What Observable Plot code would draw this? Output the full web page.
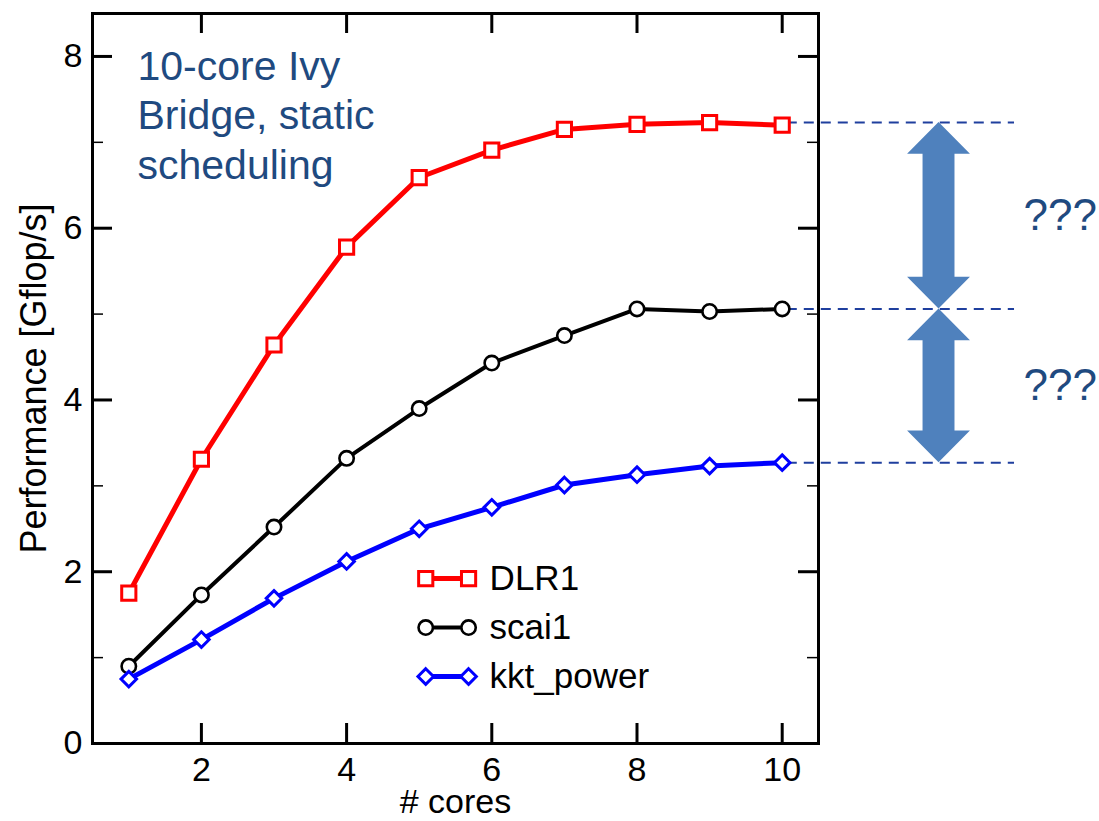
<!DOCTYPE html>
<html>
<head>
<meta charset="utf-8">
<script src="https://cdn.jsdelivr.net/npm/d3@7"></script>
<script src="https://cdn.jsdelivr.net/npm/@observablehq/plot@0.6"></script>
<style>
  html, body { margin: 0; padding: 0; background: #fff; }
  #chart svg { display: block; overflow: visible; }
</style>
</head>
<body>
<div id="chart"></div>
<script>
// ---- data ----
const cores = [1, 2, 3, 4, 5, 6, 7, 8, 9, 10];
const dlr1 = [1.75, 3.31, 4.64, 5.78, 6.59, 6.91, 7.15, 7.21, 7.23, 7.20];
const scai1 = [0.90, 1.73, 2.52, 3.32, 3.90, 4.43, 4.75, 5.06, 5.03, 5.06];
const kktPower = [0.75, 1.21, 1.69, 2.12, 2.50, 2.75, 3.01, 3.13, 3.23, 3.27];
const seriesNames = ["DLR1", "scai1", "kkt_power"];
const xTicks = [2, 4, 6, 8, 10];
const yTicks = [0, 2, 4, 6, 8];
const yMinorTicks = [1, 3, 5, 7];
const gapLabel = "???";
const noteText = "10-core Ivy\nBridge, static\nscheduling";
const xLabel = "# cores";
const yLabel = "Performance [Gflop/s]";

// ---- styles / layout ----
const seriesStyle = {
  DLR1: {color: "#ff0000", symbol: "square", r: 8, lw: 5, mw: 3},
  scai1: {color: "#000000", symbol: "circle", r: 7.2, lw: 4, mw: 2.6},
  kkt_power: {color: "#0000ff", symbol: "diamond2", r: 7, lw: 5, mw: 3}
};
const noteColor = "#1f4a80";
const arrowColor = "#4f81bd";
const dashColor = "#1f3f9e";
const font = "'Liberation Sans', Arial, Helvetica, sans-serif";

const W = 1099, H = 821;
const M = {left: 92, right: 281, top: 13, bottom: 78};
const plotW = W - M.left - M.right;
const plotH = H - M.top - M.bottom;

// annotation geometry (data units)
const arrowCx = 12.16, arrowHeadHalf = 0.433, arrowShaftHalf = 0.22, arrowHeadLen = 0.37;
const dashX1 = 10.07, dashX2 = 13.2;
const legendX0 = 5.09, legendX1 = 5.68, legendTextX = 5.97, legendTop = 1.92, legendStep = 0.57;

const valuesBySeries = {DLR1: dlr1, scai1: scai1, kkt_power: kktPower};
const peaks = seriesNames.map(s => d3.max(valuesBySeries[s]));

// arrows between consecutive peaks
const arrowPts = [];
for (let i = 0; i < peaks.length - 1; i++) {
  const top = peaks[i], bot = peaks[i + 1];
  arrowPts.push(
    {k: i, y: top, x1: arrowCx, x2: arrowCx},
    {k: i, y: top - arrowHeadLen, x1: arrowCx - arrowHeadHalf, x2: arrowCx + arrowHeadHalf},
    {k: i, y: top - arrowHeadLen, x1: arrowCx - arrowShaftHalf, x2: arrowCx + arrowShaftHalf},
    {k: i, y: bot + arrowHeadLen, x1: arrowCx - arrowShaftHalf, x2: arrowCx + arrowShaftHalf},
    {k: i, y: bot + arrowHeadLen, x1: arrowCx - arrowHeadHalf, x2: arrowCx + arrowHeadHalf},
    {k: i, y: bot, x1: arrowCx, x2: arrowCx}
  );
}
const gapMids = peaks.slice(0, -1).map((p, i) => (p + peaks[i + 1]) / 2);

const seriesMarks = seriesNames.flatMap((s, si) => {
  const st = seriesStyle[s];
  const rows = cores.map((c, i) => ({c, v: valuesBySeries[s][i]}));
  const ly = legendTop - si * legendStep;
  const legendRows = [{x: legendX0, y: ly}, {x: legendX1, y: ly}];
  return [
    Plot.line(rows, {x: "c", y: "v", stroke: st.color, strokeWidth: st.lw}),
    Plot.dot(rows, {x: "c", y: "v", symbol: () => st.symbol, r: st.r, stroke: st.color, strokeWidth: st.mw, fill: "white"}),
    Plot.line(legendRows, {x: "x", y: "y", stroke: st.color, strokeWidth: st.lw}),
    Plot.dot(legendRows, {x: "x", y: "y", symbol: () => st.symbol, r: st.r, stroke: st.color, strokeWidth: st.mw, fill: "white"}),
    Plot.text([s], {x: legendTextX, y: ly, text: d => d, textAnchor: "start", fontSize: 35, fill: "black"})
  ];
});

const chart = Plot.plot({
  width: W, height: H,
  marginLeft: M.left, marginRight: M.right, marginTop: M.top, marginBottom: M.bottom,
  style: {fontFamily: font, fontSize: "34px", color: "black", background: "white", overflow: "visible"},
  x: {domain: [0.5, 10.5]},
  y: {domain: [0, 8.5]},
  marks: [
    // annotation: dashed reference lines
    Plot.ruleY(peaks, {y: d => d, x1: dashX1, x2: dashX2, stroke: dashColor, strokeWidth: 2, strokeDasharray: "10,7"}),
    // annotation: double arrows
    Plot.areaX(arrowPts, {y: "y", x1: "x1", x2: "x2", z: "k", fill: arrowColor, curve: "linear"}),
    Plot.text(gapMids, {y: d => d, frameAnchor: "right", dx: 205, text: () => gapLabel, textAnchor: "start", fontSize: 44, fill: noteColor}),
    // ticks
    Plot.tickX(xTicks, {x: d => d, insetTop: plotH - 20, strokeWidth: 3}),
    Plot.tickX(xTicks, {x: d => d, insetBottom: plotH - 20, strokeWidth: 3}),
    Plot.tickY(yTicks, {y: d => d, insetRight: plotW - 20, strokeWidth: 3}),
    Plot.tickY(yTicks, {y: d => d, insetLeft: plotW - 20, strokeWidth: 3}),
    Plot.tickY(yMinorTicks, {y: d => d, insetRight: plotW - 11, strokeWidth: 1.5}),
    Plot.tickY(yMinorTicks, {y: d => d, insetLeft: plotW - 11, strokeWidth: 1.5}),
    Plot.axisX({ticks: xTicks, tickSize: 0, tickPadding: 13, fontSize: 34, label: null}),
    Plot.axisY({ticks: yTicks, tickSize: 0, tickPadding: 10, fontSize: 34, label: null}),
    Plot.frame({stroke: "black", strokeWidth: 3}),
    // series
    ...seriesMarks,
    // labels
    Plot.text([xLabel], {frameAnchor: "bottom", dy: 59, lineAnchor: "middle", textAnchor: "middle", text: d => d, fontSize: 34, fill: "black"}),
    Plot.text([yLabel], {frameAnchor: "left", dx: -58, rotate: -90, textAnchor: "middle", lineAnchor: "middle", text: d => d, fontSize: 36, fill: "black"}),
    Plot.text([noteText], {frameAnchor: "top-left", dx: 45, dy: 31, text: d => d, textAnchor: "start", lineAnchor: "top", lineHeight: 1.21, fontSize: 41, fill: noteColor})
  ]
});
document.getElementById("chart").append(chart);
</script>
</body>
</html>
